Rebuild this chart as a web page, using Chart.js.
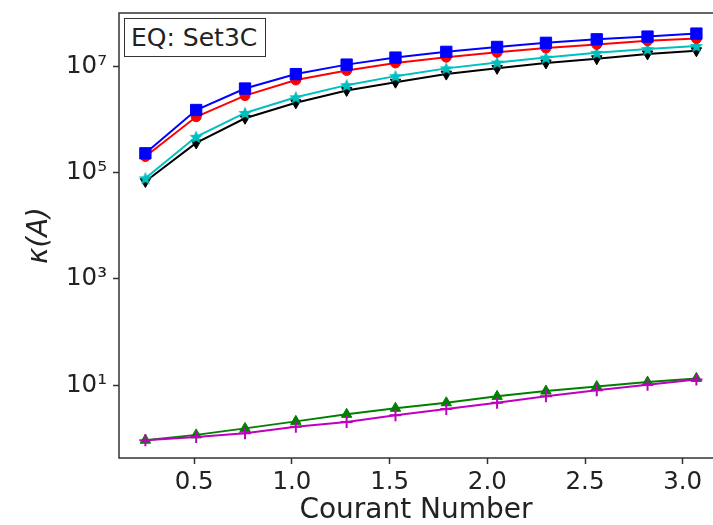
<!DOCTYPE html>
<html>
<head>
<meta charset="utf-8">
<script src="https://cdn.jsdelivr.net/npm/chart.js@4.4.1/dist/chart.umd.min.js"></script>
<style>
  html, body { margin: 0; padding: 0; background: #fff; overflow: hidden; }
  #wrap { position: relative; width: 713px; height: 525px; }
  #eqbox {
    position: absolute; left: 124px; top: 18px; width: 142px; height: 39px;
    border: 1.5px solid #333; box-sizing: border-box;
    font-family: "DejaVu Sans", sans-serif; font-size: 25px; color: #222;
    line-height: 37px; padding-left: 6px; background: #fff;
  }
</style>
</head>
<body>
<div id="wrap">
  <canvas id="chart" width="713" height="525"></canvas>
  <div id="eqbox">EQ: Set3C</div>
</div>
<script>
// Courant numbers (x) shared by every series
const courant = [0.25, 0.51, 0.76, 1.02, 1.28, 1.53, 1.79, 2.05, 2.30, 2.56, 2.82, 3.07];

// condition numbers
const kappaBlue    = [2.3e5, 1.5e6, 3.8e6, 7.1e6, 1.07e7, 1.45e7, 1.86e7, 2.3e7, 2.75e7, 3.2e7, 3.6e7, 4.1e7];
const kappaRed     = [2.0e5, 1.12e6, 2.8e6, 5.5e6, 8.3e6, 1.15e7, 1.48e7, 1.82e7, 2.19e7, 2.57e7, 3.0e7, 3.3e7];
const kappaCyan    = [7.8e4, 4.7e5, 1.32e6, 2.6e6, 4.4e6, 6.5e6, 9.1e6, 1.17e7, 1.45e7, 1.78e7, 2.1e7, 2.4e7];
const kappaBlack   = [6.8e4, 3.6e5, 1.05e6, 2.05e6, 3.5e6, 5.0e6, 7.1e6, 9.1e6, 1.15e7, 1.38e7, 1.7e7, 1.95e7];
const kappaGreen   = [0.93, 1.17, 1.55, 2.1, 2.85, 3.7, 4.7, 6.2, 7.8, 9.5, 11.5, 13.5];
const kappaMagenta = [0.93, 1.07, 1.26, 1.66, 2.04, 2.75, 3.6, 4.7, 6.2, 8.1, 10.2, 12.9];

// tick labels
const xTicks = [0.5, 1.0, 1.5, 2.0, 2.5, 3.0];
const yTicks = [1e1, 1e3, 1e5, 1e7];
const yTickLabels = ['10\u00B9', '10\u00B3', '10\u2075', '10\u2077'];

const FONT = '"DejaVu Sans", sans-serif';

// filled five point star like matplotlib '*'
function starImage(color, size) {
    const c = document.createElement('canvas');
    c.width = size; c.height = size;
    const g = c.getContext('2d');
    const cx = size / 2, cy = size / 2 + 0.5, R = size / 2, r = R * 0.45;
    g.beginPath();
    for (let i = 0; i < 10; i++) {
        const a = -Math.PI / 2 + i * Math.PI / 5;
        const rad = i % 2 === 0 ? R : r;
        g.lineTo(cx + rad * Math.cos(a), cy + rad * Math.sin(a));
    }
    g.closePath();
    g.fillStyle = color;
    g.fill();
    return c;
}

function toPoints(ys) {
    return courant.map((x, i) => ({x: x, y: ys[i]}));
}

function series(ys, color, style, radius, order, extra) {
    return Object.assign({
        data: toPoints(ys),
        borderColor: color,
        backgroundColor: color,
        borderWidth: 2,
        pointStyle: style,
        pointRadius: radius,
        pointBorderWidth: 1,
        pointBorderColor: color,
        pointBackgroundColor: color,
        tension: 0,
        clip: false,
        order: order
    }, extra || {});
}

// frame around the plot area (matplotlib spines); the right spine lies past the page edge
const framePlugin = {
    id: 'frame',
    afterDraw(chart) {
        const {ctx, chartArea} = chart;
        const {left, right, top, bottom} = chartArea;
        ctx.save();
        ctx.strokeStyle = '#333';
        ctx.lineWidth = 1.5;
        ctx.beginPath();
        ctx.moveTo(right, top);
        ctx.lineTo(left, top);
        ctx.lineTo(left, bottom);
        ctx.lineTo(right, bottom);
        ctx.stroke();
        ctx.restore();
    }
};

const ctx = document.getElementById('chart').getContext('2d');
new Chart(ctx, {
    type: 'line',
    data: {
        datasets: [
            series(kappaBlack, '#000000', 'triangle', 6, 6, {rotation: 180}),
            series(kappaCyan, '#00bfbf', starImage('#00bfbf', 14), 7, 5),
            series(kappaRed, '#ff0000', 'circle', 5, 4),
            series(kappaBlue, '#0000ff', 'rect', 8, 3),
            series(kappaGreen, '#008000', 'triangle', 6, 2),
            series(kappaMagenta, '#bf00bf', 'cross', 6, 1, {pointBorderWidth: 2})
        ]
    },
    options: {
        responsive: false,
        animation: false,
        layout: {
            autoPadding: false,
            padding: {top: 13, right: 0, left: 0, bottom: 0}
        },
        scales: {
            x: {
                type: 'linear',
                min: 0.115,
                max: 3.155,
                afterBuildTicks: (scale) => {
                    scale.ticks = xTicks.map(v => ({value: v}));
                },
                afterFit: (scale) => {
                    scale.height = 67;
                    scale.paddingLeft = 0;
                    scale.paddingRight = 0;
                },
                grid: {
                    drawOnChartArea: false,
                    drawTicks: true,
                    tickLength: 6,
                    tickWidth: 1.5,
                    tickColor: '#333'
                },
                border: {display: false},
                ticks: {
                    color: '#222',
                    padding: 4,
                    maxRotation: 0,
                    font: {family: FONT, size: 24.5},
                    callback: (v) => Number(v).toFixed(1)
                },
                title: {
                    display: true,
                    text: 'Courant Number',
                    color: '#222',
                    padding: 0,
                    font: {family: FONT, size: 28, lineHeight: 1}
                }
            },
            y: {
                type: 'logarithmic',
                min: 0.43,
                max: 1e8,
                afterBuildTicks: (scale) => {
                    scale.ticks = yTicks.map(v => ({value: v}));
                },
                afterFit: (scale) => {
                    scale.width = 119;
                    scale.paddingTop = 0;
                    scale.paddingBottom = 0;
                },
                grid: {
                    drawOnChartArea: false,
                    drawTicks: true,
                    tickLength: 6,
                    tickWidth: 1.5,
                    tickColor: '#333'
                },
                border: {display: false},
                ticks: {
                    color: '#222',
                    padding: 6,
                    font: {family: FONT, size: 24.5},
                    callback: (v) => {
                        const i = yTicks.indexOf(v);
                        return i >= 0 ? yTickLabels[i] : '';
                    }
                },
                title: {
                    display: true,
                    text: '\u03BA(A)',
                    color: '#222',
                    padding: {top: 23, bottom: 0},
                    font: {family: FONT, size: 27.5, style: 'italic'}
                }
            }
        },
        plugins: {
            legend: {display: false},
            tooltip: {enabled: false}
        }
    },
    plugins: [framePlugin]
});
</script>
</body>
</html>
